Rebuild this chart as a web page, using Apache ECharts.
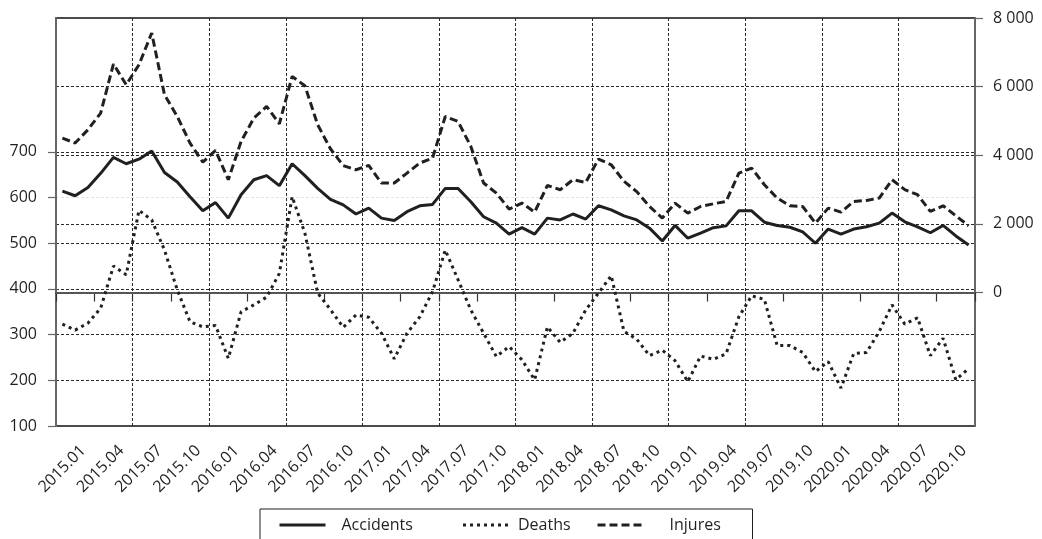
<!DOCTYPE html>
<html>
<head>
<meta charset="utf-8">
<script src="https://cdn.jsdelivr.net/npm/echarts@6/dist/echarts.min.js"></script>
<style>
  html, body { margin: 0; padding: 0; background: #ffffff; }
  #chart { width: 1042px; height: 539px; }
</style>
</head>
<body>
<div id="chart"></div>
<script>
const months = [
  '2015.01','2015.02','2015.03','2015.04','2015.05','2015.06','2015.07','2015.08','2015.09','2015.10','2015.11','2015.12',
  '2016.01','2016.02','2016.03','2016.04','2016.05','2016.06','2016.07','2016.08','2016.09','2016.10','2016.11','2016.12',
  '2017.01','2017.02','2017.03','2017.04','2017.05','2017.06','2017.07','2017.08','2017.09','2017.10','2017.11','2017.12',
  '2018.01','2018.02','2018.03','2018.04','2018.05','2018.06','2018.07','2018.08','2018.09','2018.10','2018.11','2018.12',
  '2019.01','2019.02','2019.03','2019.04','2019.05','2019.06','2019.07','2019.08','2019.09','2019.10','2019.11','2019.12',
  '2020.01','2020.02','2020.03','2020.04','2020.05','2020.06','2020.07','2020.08','2020.09','2020.10','2020.11','2020.12'
];
const accidents = [
  614,604,622,653,688,674,684,702,655,634,602,571,
  589,555,606,639,648,626,674,648,620,596,584,564,
  577,555,550,569,582,585,620,620,591,558,544,520,
  534,520,555,551,564,553,582,573,560,551,533,505,
  539,511,522,534,538,571,571,546,539,535,525,500,
  531,520,531,536,544,566,547,536,523,539,516,496
];
const deaths = [
  323,310,325,358,450,431,572,551,485,398,328,317,
  320,248,350,365,382,434,602,522,391,355,316,343,
  338,303,247,303,339,394,485,420,354,303,252,274,
  245,201,317,283,303,354,391,429,307,290,254,266,
  243,197,253,246,258,339,385,377,276,276,261,219,
  241,183,259,261,307,365,323,337,254,292,201,226
];
const injures = [
  4500,4355,4743,5230,6659,6055,6638,7563,5764,5131,4355,3802,
  4140,3286,4402,5084,5423,4918,6297,6026,4889,4190,3700,3577,
  3703,3190,3190,3481,3773,3918,5131,4985,4257,3190,2898,2431,
  2606,2344,3120,2994,3286,3207,3889,3723,3240,2940,2507,2170,
  2606,2315,2507,2586,2653,3480,3627,3140,2752,2528,2507,2023,
  2460,2344,2653,2682,2752,3286,3000,2850,2362,2528,2236,1945
];
const leftTicks = [100, 200, 300, 400, 500, 600, 700];
const rightTicks = [0, 2000, 4000, 6000, 8000];

const INK = '#231f20';
const GRID = '#2a2a2a';
const T = 'rgba(0,0,0,0)';
const FONT = 'Open Sans';

const chart = echarts.init(document.getElementById('chart'), null, { renderer: 'canvas' });
const fmtThousands = v => String(v).replace(/\B(?=(\d{3})+(?!\d))/g, ' ');

chart.setOption({
  animation: false,
  backgroundColor: '#ffffff',
  textStyle: { fontFamily: FONT, color: INK },
  grid: {
    left: 56, right: 67, top: 18, bottom: 113,
    show: true, borderColor: '#111', borderWidth: 1.5, backgroundColor: 'transparent'
  },
  legend: {
    left: 260, top: 509,
    padding: [8, 23, 20, 18],
    itemGap: 0,
    itemWidth: 46, itemHeight: 14,
    borderColor: INK, borderWidth: 1,
    selectedMode: false,
    itemStyle: { color: T, borderColor: T, borderWidth: 0, opacity: 0 },
    lineStyle: { width: 3 },
    textStyle: { fontFamily: FONT, fontSize: 16, color: INK, lineHeight: 16 },
    data: [
      { name: 'Accidents', textStyle: { width: 120, padding: [0, 0, 0, 11] } },
      { name: 'Deaths', textStyle: { width: 78, padding: [0, 0, 0, 4] } },
      { name: 'Injures', textStyle: { width: 60, padding: [0, 0, 0, 21] } }
    ]
  },
  xAxis: {
    type: 'category',
    data: months,
    boundaryGap: true,
    axisLine: { show: true, lineStyle: { color: '#333', width: 1.5 } },
    axisTick: { show: true, interval: 2, length: 9, lineStyle: { color: '#333', width: 1.2 } },
    axisLabel: {
      interval: 2, rotate: 45, align: 'center', verticalAlign: 'middle',
      margin: 43, fontSize: 16, color: INK, fontFamily: FONT
    },
    splitLine: { show: true, interval: 5, lineStyle: { color: GRID, type: [3, 2], width: 1 } }
  },
  yAxis: [
    {
      type: 'value', position: 'left', min: 100, max: 993, interval: 100,
      axisLine: { show: true, lineStyle: { color: '#666', width: 2 } },
      axisTick: { show: true, length: 8, customValues: leftTicks, lineStyle: { color: '#666', width: 1.2 } },
      axisLabel: { customValues: leftTicks, fontSize: 16, color: INK, margin: 19, fontFamily: FONT },
      splitLine: { show: true, lineStyle: { color: [T, GRID, GRID, GRID, GRID, '#e4e4e4', GRID, T, T, T], type: [3, 2], width: 1 } }
    },
    {
      type: 'value', position: 'right', min: -3890, max: 8000,
      axisLine: { show: true, lineStyle: { color: '#666', width: 2 } },
      axisTick: { show: true, length: 8, customValues: rightTicks, lineStyle: { color: '#666', width: 1.2 } },
      axisLabel: { customValues: rightTicks, fontSize: 16, color: INK, margin: 18, fontFamily: FONT, formatter: fmtThousands },
      splitLine: { show: true, lineStyle: { color: [T, GRID, GRID, GRID, T], type: [3, 2], width: 1 } }
    }
  ],
  series: [
    {
      name: 'Accidents', type: 'line', yAxisIndex: 0, data: accidents,
      symbol: 'none', z: 5,
      lineStyle: { color: INK, width: 3, type: 'solid' },
      itemStyle: { color: INK }
    },
    {
      name: 'Deaths', type: 'line', yAxisIndex: 0, data: deaths,
      symbol: 'none', z: 5,
      lineStyle: { color: INK, width: 3, type: [3, 4] },
      itemStyle: { color: INK }
    },
    {
      name: 'Injures', type: 'line', yAxisIndex: 1, data: injures,
      symbol: 'none', z: 5,
      lineStyle: { color: INK, width: 3, type: [8, 4] },
      itemStyle: { color: INK },
      markLine: {
        silent: true, symbol: 'none', label: { show: false }, z: 3,
        lineStyle: { color: '#555', width: 2, type: 'solid' },
        data: [{ yAxis: 0 }]
      }
    }
  ]
});
</script>
</body>
</html>
